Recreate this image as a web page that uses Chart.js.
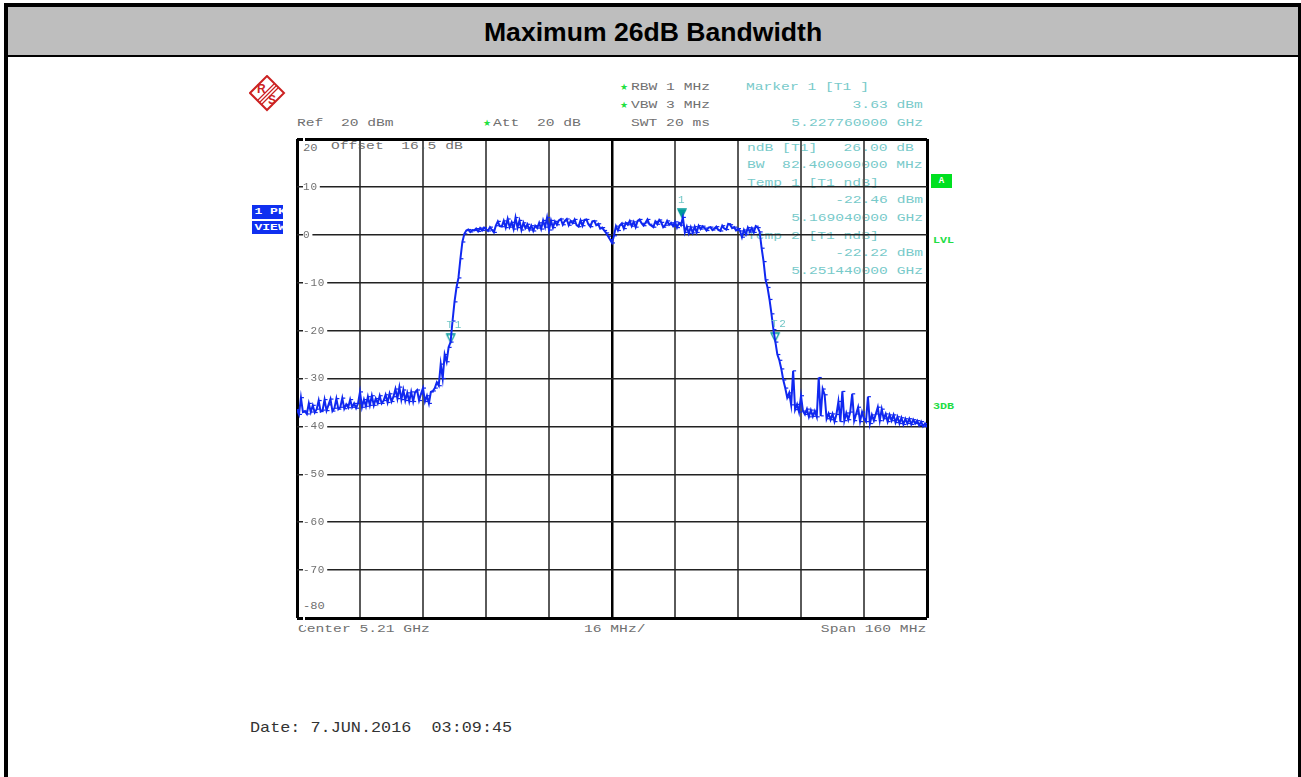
<!DOCTYPE html>
<html>
<head>
<meta charset="utf-8">
<title>Maximum 26dB Bandwidth</title>
<script src="https://cdn.jsdelivr.net/npm/chart.js@4"></script>
<style>
html, body { margin: 0; padding: 0; background: #fff; }
#page { position: relative; width: 1301px; height: 777px; overflow: hidden; }
#frame { position: absolute; left: 4px; top: 3px; height: 774px; border: solid #000; border-width: 4px 3px 0 4px; box-sizing: border-box; width: 1297px; }
#title { position: absolute; left: 8px; top: 7px; width: 1290px; height: 48px; background: #bebebe; border-bottom: 2px solid #000;
  text-align: center; line-height: 50px; color: #000; }
#title span { display: inline-block; position: relative; top: 4px; font: bold 25px "Liberation Sans", sans-serif; transform: scaleX(1.063); }
.t { position: absolute; font: 11px/12px "Liberation Mono", monospace; white-space: pre; color: #707070; transform: scaleX(1.33); transform-origin: left center; }
.r { transform-origin: right center; }
.c { color: #78caca; }
.g { color: #22dd44; }
.star { position: absolute; color: #22e040; font: 9px/12px "DejaVu Sans", sans-serif; }
.box { position: absolute; background: #1030f0; color: #fff; overflow: hidden; }
.box span { display: inline-block; transform: scaleX(1.45); transform-origin: left; }
#date { position: absolute; left: 250px; top: 720px; font: 15px/17px "Liberation Mono", monospace; white-space: pre; color: #333; transform: scaleX(1.12); transform-origin: left center; }
#chart { position: absolute; left: 0; top: 0; }
</style>
</head>
<body>
<div id="page">
  <div id="frame"></div>
  <div id="title"><span>Maximum 26dB Bandwidth</span></div>

  <svg style="position:absolute;left:249px;top:75px" width="37" height="37" viewBox="0 0 37 37">
    <g fill="none" stroke="#cc2222">
      <path d="M18 1 L35 18 L18 35 L1 18 Z" stroke-width="2"/>
      <path d="M9 25 L25 9 M11 27 L27 11 M13 29 L29 13" stroke-width="1.2"/>
    </g>
    <text x="8" y="18" font-family="Liberation Sans" font-weight="bold" font-size="12" fill="#cc2222">R</text>
    <text x="19" y="29" font-family="Liberation Sans" font-weight="bold" font-size="12" fill="#cc2222">S</text>
  </svg>

  <div class="t" style="left:297px;top:117px">Ref  20 dBm</div>
  <div class="star" style="left:483px;top:117px">★</div>
  <div class="t" style="left:493px;top:117px">Att  20 dB</div>
  <div class="star" style="left:620px;top:81px">★</div>
  <div class="t" style="left:631px;top:81px">RBW 1 MHz</div>
  <div class="star" style="left:620px;top:99px">★</div>
  <div class="t" style="left:631px;top:99px">VBW 3 MHz</div>
  <div class="t" style="left:631px;top:117px">SWT 20 ms</div>

  <div class="t c" style="left:746px;top:81px">Marker 1 [T1 ]</div>
  <div class="t c r" style="right:378px;top:99px">3.63 dBm</div>
  <div class="t c r" style="right:378px;top:117px">5.227760000 GHz</div>

  <div class="t" style="left:331px;top:140px">Offset  16.5 dB</div>
  <div class="t c" style="left:747px;top:142px">ndB [T1]   26.00 dB</div>
  <div class="t c" style="left:747px;top:159px">BW  82.400000000 MHz</div>
  <div class="t c" style="left:747px;top:177px">Temp 1 [T1 ndB]</div>
  <div class="t c r" style="right:378px;top:194px">-22.46 dBm</div>
  <div class="t c r" style="right:378px;top:212px">5.169040000 GHz</div>
  <div class="t c" style="left:747px;top:230px">Temp 2 [T1 ndB]</div>
  <div class="t c r" style="right:378px;top:247px">-22.22 dBm</div>
  <div class="t c r" style="right:378px;top:265px">5.251440000 GHz</div>

  <div class="t" style="left:303px;top:142px;transform:scaleX(1.1)">20</div>
  <div class="t" style="left:303px;top:600px;transform:scaleX(1.1)">-80</div>

  <div class="t" style="left:298px;top:623px">Center 5.21 GHz</div>
  <div class="t" style="left:584px;top:623px">16 MHz/</div>
  <div class="t r" style="right:375px;top:623px">Span 160 MHz</div>

  <div class="box" style="left:252px;top:205px;width:31px;height:14px;font:bold 9px/14px 'Liberation Mono',monospace;white-space:pre;text-indent:1px"><span>1 PK</span></div>
  <div class="box" style="left:252px;top:221px;width:31px;height:13px;font:bold 9px/14px 'Liberation Mono',monospace;white-space:pre;text-indent:1px"><span>VIEW</span></div>
  <div class="box" style="left:931px;top:174px;width:21px;height:14px;background:#00e020;font:bold 9px/14px 'Liberation Mono',monospace;text-align:center">A</div>
  <div class="t g" style="left:933px;top:235px;font-size:9px;font-weight:bold;transform:scaleX(1.3)">LVL</div>
  <div class="t g" style="left:933px;top:401px;font-size:9px;font-weight:bold;transform:scaleX(1.3)">3DB</div>

  <div id="date">Date: 7.JUN.2016  03:09:45</div>

  <canvas id="chart" width="1301" height="777"></canvas>
</div>

<script>
// sweep offset from the left edge of the screen, MHz
const traceFreq = [
  0,0.5,1,1.5,2,2.5,3,3.5,4,4.5, 5,5.5,6,6.5,7,7.5,8,8.5,9,9.5,
  10,10.5,11,11.5,12,12.5,13,13.5,14,14.5, 15,15.5,16,16.5,17,17.5,18,18.5,19,19.5,
  20,20.5,21,21.5,22,22.5,23,23.5,24,24.5, 25,25.5,26,26.5,27,27.5,28,28.5,29,29.5,
  30,30.5,31,31.5,32,32.5,33,33.5,34,34.5, 35,35.5,36,36.5,37,37.5,38,38.5,39,39.5,
  40,40.5,41,41.5,42,42.5,43,43.5,44,44.5, 45,45.5,46,46.5,47,47.5,48,48.5,49,49.5,
  50,50.5,51,51.5,52,52.5,53,53.5,54,54.5, 55,55.5,56,56.5,57,57.5,58,58.5,59,59.5,
  60,60.5,61,61.5,62,62.5,63,63.5,64,64.5, 65,65.5,66,66.5,67,67.5,68,68.5,69,69.5,
  70,70.5,71,71.5,72,72.5,73,73.5,74,74.5, 75,75.5,76,76.5,77,77.5,78,78.5,79,79.5,
  80,80.5,81,81.5,82,82.5,83,83.5,84,84.5, 85,85.5,86,86.5,87,87.5,88,88.5,89,89.5,
  90,90.5,91,91.5,92,92.5,93,93.5,94,94.5, 95,95.5,96,96.5,97,97.5,98,98.5,99,99.5,
  100,100.5,101,101.5,102,102.5,103,103.5,104,104.5, 105,105.5,106,106.5,107,107.5,108,108.5,109,109.5,
  110,110.5,111,111.5,112,112.5,113,113.5,114,114.5, 115,115.5,116,116.5,117,117.5,118,118.5,119,119.5,
  120,120.5,121,121.5,122,122.5,123,123.5,124,124.5, 125,125.5,126,126.5,127,127.5,128,128.5,129,129.5,
  130,130.5,131,131.5,132,132.5,133,133.5,134,134.5, 135,135.5,136,136.5,137,137.5,138,138.5,139,139.5,
  140,140.5,141,141.5,142,142.5,143,143.5,144,144.5, 145,145.5,146,146.5,147,147.5,148,148.5,149,149.5,
  150,150.5,151,151.5,152,152.5,153,153.5,154,154.5, 155,155.5,156,156.5,157,157.5,158,158.5,159,159.5,
  160
];

// trace level, dBm
const traceLevel = [
  -36.5,-37.5,-34,-37,-36.8,-37.4,-35.2,-37,-35.6,-37.1,
  -36.4,-34.6,-36.9,-36.6,-34.4,-36.7,-35.5,-34.3,-36.8,-36.2,
  -34.2,-36.4,-36,-34.1,-36.3,-35.4,-36.1,-34.4,-36,-35.2,
  -36.2,-35.2,-32.8,-36,-34.4,-35.8,-33.8,-35.6,-33.6,-35.6,
  -34.2,-35.2,-33.6,-35.2,-34.6,-33.4,-35,-33.2,-34.8,-33.8,
  -32.2,-34.2,-31.8,-34.4,-32.4,-34.6,-33,-34.8,-32.8,-34.8,
  -32.8,-32.4,-34.6,-33.2,-32,-34.8,-33.6,-35.2,-32.8,-32.6,
  -32,-30.8,-31.5,-27,-30,-25,-26.5,-23.5,-22.4,-18,
  -14,-11,-9,-5,-1.5,0.2,0.9,1.1,0.6,1,
  0.9,1.3,0.7,1.4,0.9,1.5,1.1,0.8,1.6,1,
  0.5,1.9,2.8,1.8,1.7,2.9,1.5,3.3,1.6,2.6,
  1.2,3.6,1.5,3,1,2.5,1.4,2.2,1,1.9,
  0.8,1.9,1.4,2.5,1.2,3,1.6,3.6,1,3,
  1.5,2.8,2.1,3,3.3,2.1,2.9,3.3,2,2.9,
  2.4,3.2,2,1.7,3,1.9,3.1,3.2,2.2,1.7,
  2.8,2.9,2,2.3,1.3,1.5,0.9,0.4,-0.3,-1,
  -1.7,-0.2,1.8,0.9,2,2.4,1.3,2.5,2.1,2.9,
  1.8,2.7,1.6,2.9,3.2,2.4,1.9,2.5,3.2,2.2,
  1.9,1.6,2.8,2.2,3.1,2.6,1.6,2,2.9,2.1,
  2.5,1.8,2.7,1.5,2.5,2,3.63,0.5,1.7,0.3,
  1.6,0.4,1.7,0.5,1.9,1.2,1.8,1.4,0.9,1.5,
  1.6,1,1.3,1.7,1,0.8,1.9,1.3,1.1,2.3,
  2.1,1.4,1.6,0.9,1.3,0.8,-0.5,1,0.1,1.5,
  0.6,1.4,0.5,1.8,1.5,0.6,-2.8,-5.6,-9.4,-11,
  -13.5,-16.5,-19.8,-22.4,-25,-26.2,-28,-30.3,-32,-34,
  -33,-35.5,-28.4,-36.5,-35.4,-37,-33.6,-36.8,-37.5,-36.4,
  -38,-36.6,-37.9,-36.8,-38,-29.8,-37.8,-32.2,-33.4,-38.4,
  -37.3,-38.6,-37.4,-39,-37.5,-34.8,-39,-32.7,-38.8,-37.2,
  -38.6,-37,-33.2,-38.8,-37.4,-36,-39,-37,-38.4,-39,
  -33.8,-39.4,-37.6,-38.8,-37.4,-36,-38.8,-36.4,-38.4,-37.4,
  -39,-37.6,-38.8,-37.6,-39.2,-38,-39.4,-38.2,-39.6,-38.4,
  -39.4,-38.4,-39.6,-38.6,-39.4,-38.8,-39.8,-39,-40,-39.4,
  -40.2
];

const markerNames = ['T1', '1', 'T2'];
const markerFreq = [39.04, 97.76, 121.44];
const markerLevel = [-22.46, 3.63, -22.22];

const yTickLabels = ['10', '0', '-10', '-20', '-30', '-40', '-50', '-60', '-70'];

// triangle with its tip on the middle of the image, so the tip sits on the marker value
function markerIcon(filled) {
  const c = document.createElement('canvas');
  c.width = 18;
  c.height = 18;
  const g = c.getContext('2d');
  g.beginPath();
  g.moveTo(9, 9);
  g.lineTo(5, 1);
  g.lineTo(13, 1);
  g.closePath();
  g.strokeStyle = '#009a9a';
  g.lineWidth = 1.3;
  g.stroke();
  if (filled) {
    g.fillStyle = '#009a9a';
    g.fill();
  }
  return c;
}

const tickSpacing = {
  id: 'tickSpacing',
  beforeUpdate(chart) { chart.ctx.letterSpacing = '0.8px'; },
  beforeDraw(chart) { chart.ctx.letterSpacing = '0.8px'; }
};

const markerText = {
  id: 'markerText',
  afterDatasetsDraw(chart) {
    const ctx = chart.ctx;
    const pts = chart.getDatasetMeta(1).data;
    ctx.save();
    ctx.font = '11px "Liberation Mono"';
    ctx.letterSpacing = '1.5px';
    ctx.fillStyle = '#70c6c6';
    ctx.textAlign = 'center';
    ctx.textBaseline = 'middle';
    pts.forEach((p, i) => {
      ctx.fillText(markerNames[i], p.x + (i === 1 ? 0 : 4), p.y - 17);
    });
    ctx.restore();
  }
};

new Chart(document.getElementById('chart'), {
  type: 'line',
  data: {
    datasets: [
      {
        data: traceFreq.map((f, i) => ({ x: f, y: traceLevel[i] })),
        borderColor: '#1028f0',
        borderWidth: 2,
        pointStyle: 'dash',
        pointRadius: 3,
        pointBorderWidth: 1.2,
        pointBorderColor: '#1028f0',
        tension: 0
      },
      {
        data: markerFreq.map((f, i) => ({ x: f, y: markerLevel[i] })),
        showLine: false,
        pointStyle: [markerIcon(false), markerIcon(true), markerIcon(false)],
        pointRadius: 9
      }
    ]
  },
  options: {
    responsive: false,
    animation: false,
    layout: { padding: { left: 297, top: 139, right: 374, bottom: 159 } },
    plugins: { legend: { display: false }, tooltip: { enabled: false } },
    scales: {
      x: {
        type: 'linear',
        min: 0,
        max: 160,
        border: { display: false },
        ticks: { display: false, stepSize: 16 },
        grid: {
          drawTicks: false,
          color: c => (c.tick.value === 0 || c.tick.value === 80 || c.tick.value === 160) ? '#000' : '#5a5a5a',
          lineWidth: c => (c.tick.value === 0 || c.tick.value === 160) ? 3 : (c.tick.value === 80 ? 2.5 : 2)
        }
      },
      y: {
        min: -80,
        max: 20,
        border: { display: false },
        afterFit: scale => { scale.width = 0; },
        grid: {
          drawTicks: false,
          color: c => (c.tick.value === 20 || c.tick.value === -80) ? '#000' : '#222',
          lineWidth: c => (c.tick.value === 20 || c.tick.value === -80) ? 3 : 1.5
        },
        ticks: {
          stepSize: 10,
          mirror: true,
          padding: 6,
          color: '#707070',
          font: { family: 'Liberation Mono', size: 11 },
          showLabelBackdrop: true,
          backdropColor: '#fff',
          backdropPadding: { left: 0, right: 2, top: 3, bottom: 3 },
          callback: v => yTickLabels.includes(String(v)) ? String(v) : ''
        }
      }
    }
  },
  plugins: [tickSpacing, markerText]
});
</script>
</body>
</html>
